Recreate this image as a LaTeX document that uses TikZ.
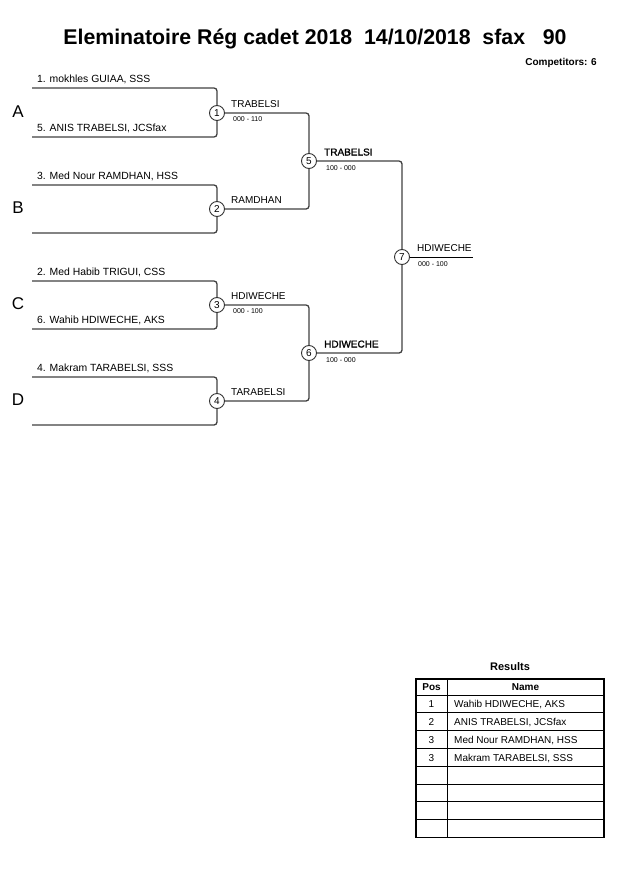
\documentclass[tikz,border=0pt]{standalone}
\usepackage{fontspec}
\setmainfont{Liberation Sans}
\newfontfamily\heavyfont[FakeBold=1.5]{Liberation Sans}
\usetikzlibrary{positioning}

\begin{document}
\begin{tikzpicture}[x=1pt,y=-1pt,
  bout/.style={circle,draw=black!80,line width=0.9pt,fill=white,minimum size=15pt,inner sep=0pt,font=\fontsize{10}{10}\selectfont},
  bracket/.style={draw=black!75,line width=1.3pt,rounded corners=3pt},
  pool/.style={font=\fontsize{17}{17}\selectfont},
  player/.style={anchor=base west,inner sep=0pt,font=\fontsize{10.4}{12}\selectfont},
  winner/.style={anchor=base west,inner sep=0pt,font=\fontsize{10}{12}\selectfont},
  score/.style={anchor=base west,inner sep=0pt,font=\fontsize{7}{8}\selectfont},
  cell/.style={anchor=base,inner sep=0pt,font=\fontsize{10}{12}\selectfont}]
\useasboundingbox (0,0) rectangle (630,891);

% heading
\node[anchor=base,inner sep=0pt,font=\bfseries\fontsize{21.3}{25}\selectfont] (title) at (315,45)
  {Eleminatoire Rég cadet 2018\ \ 14/10/2018\ \ sfax\ \ \ 90};
\node[anchor=base east,inner sep=0pt,font=\bfseries\fontsize{10}{12}\selectfont] (count) at (597,65.5) {Competitors: 6};

% bouts
\node[bout] (m1) at (217,113) {1};
\node[bout] (m2) at (217,209) {2};
\node[bout] (m3) at (217,305) {3};
\node[bout] (m4) at (217,401) {4};
\node[bout] (m5) at (309,161) {5};
\node[bout] (m6) at (309,353) {6};
\node[bout] (m7) at (402,257) {7};

% pools
\node[pool] (poolA) at (18,112) {A};
\node[pool] (poolB) at (18,208) {B};
\node[pool] (poolC) at (18,304) {C};
\node[pool] (poolD) at (18,400) {D};

% player lines
\coordinate (p1) at (32,88);
\coordinate (p5) at (32,137);
\coordinate (p3) at (32,185);
\coordinate (pB) at (32,233);
\coordinate (p2) at (32,281);
\coordinate (p6) at (32,329);
\coordinate (p4) at (32,377);
\coordinate (pD) at (32,425);
\coordinate (champ) at (473,257);

\draw[bracket] (p1) -| (m1) |- (p5);
\draw[bracket] (p3) -| (m2) |- (pB);
\draw[bracket] (p2) -| (m3) |- (p6);
\draw[bracket] (p4) -| (m4) |- (pD);
\draw[bracket] (m1) -| (m5) |- (m2);
\draw[bracket] (m3) -| (m6) |- (m4);
\draw[bracket] (m5) -| (m7) |- (m6);
\draw[draw=black,line width=1pt] (m7) -- (champ);

% names
\node[player] (n1) at (37,82) {1. mokhles GUIAA, SSS};
\node[player] (n5) at (37,131) {5. ANIS TRABELSI, JCSfax};
\node[player] (n3) at (37,179) {3. Med Nour RAMDHAN, HSS};
\node[player] (n2) at (37,275) {2. Med Habib TRIGUI, CSS};
\node[player] (n6) at (37,323) {6. Wahib HDIWECHE, AKS};
\node[player] (n4) at (37,371) {4. Makram TARABELSI, SSS};

% winners and scores
\node[winner] (w1) at (231,107.5) {TRABELSI};
\node[score]  (s1) at (233,121.5) {000 - 110};
\node[winner] (w2) at (231,203.5) {RAMDHAN};
\node[winner] (w3) at (231,299.5) {HDIWECHE};
\node[score]  (s3) at (233,313.5) {000 - 100};
\node[winner] (w4) at (231,395.5) {TARABELSI};
\node[winner] (w5) at (324,155.5) {\heavyfont TRABELSI};
\node[score]  (s5) at (326,170) {100 - 000};
\node[winner] (w6) at (324,347.5) {\heavyfont HDIWECHE};
\node[score]  (s6) at (326,362) {100 - 000};
\node[winner] (w7) at (417,251.5) {HDIWECHE};
\node[score]  (s7) at (418,266) {000 - 100};

% results
\node[anchor=base,inner sep=0pt,font=\bfseries\fontsize{11}{13}\selectfont] (results) at (510,670) {Results};
\draw[line width=0.8pt] (447,679) -- (447,837.4);
\foreach \k in {0,...,7}
  \draw[line width=0.8pt] (416,{695+17.8*\k}) -- (604,{695+17.8*\k});
\draw[line width=1.6pt] (416,679) rectangle (604,837.4);
\node[cell,font=\bfseries\fontsize{10}{12}\selectfont] (hpos) at (431.5,690.5) {Pos};
\node[cell,font=\bfseries\fontsize{10}{12}\selectfont] (hname) at (525.5,690.5) {Name};
\foreach \i/\pos/\txt in {1/1/{Wahib HDIWECHE, AKS},2/2/{ANIS TRABELSI, JCSfax},
    3/3/{Med Nour RAMDHAN, HSS},4/3/{Makram TARABELSI, SSS}} {
  \node[cell] (pos-\i) at (431.5,{695+17.8*\i-5}) {\pos};
  \node[cell,anchor=base west] (name-\i) at (454,{695+17.8*\i-5}) {\txt};
}
\end{tikzpicture}
\end{document}
